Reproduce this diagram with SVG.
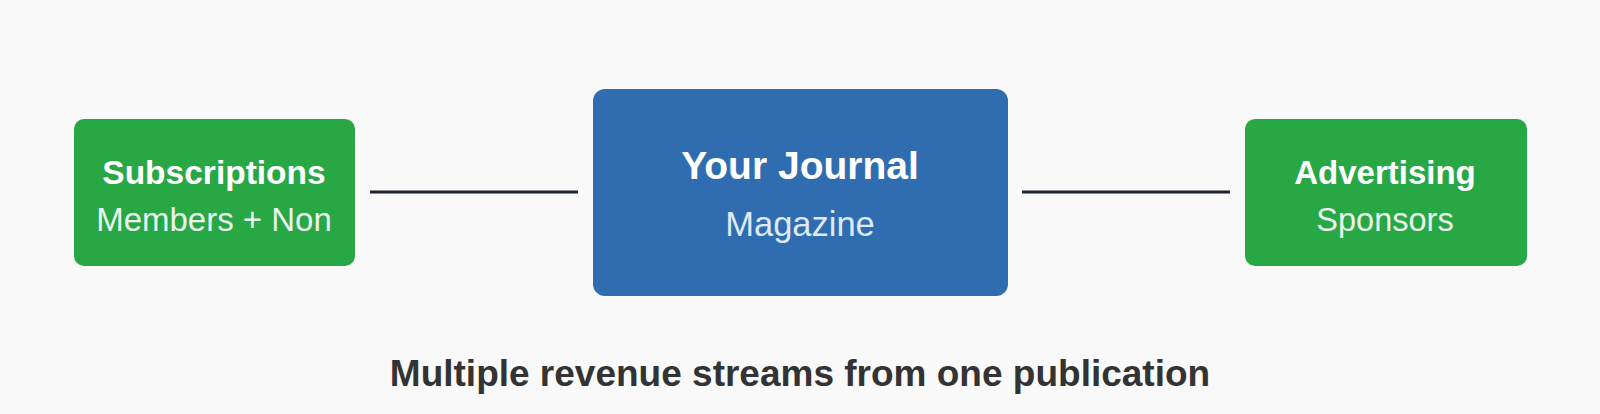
<svg xmlns="http://www.w3.org/2000/svg" width="1600" height="414" viewBox="0 0 1600 414">
<style>
.t{font-family:"Liberation Sans",Arial,sans-serif;text-anchor:middle}
.title{font-weight:bold;fill:#ffffff}
.sub{fill:#e8f5ec}
.subb{fill:#dfe9f5}
.green{fill:#28a745}
.blue{fill:#306db0}
.conn{stroke:#1c2333;stroke-width:3;fill:none}
</style>
<rect width="1600" height="414" fill="#f9f9f9"/>
<g id="connectors">
<line class="conn" x1="370" y1="192" x2="578" y2="192"/>
<line class="conn" x1="1022" y1="192" x2="1230" y2="192"/>
</g>
<g id="subscriptions">
<rect class="green" x="74" y="119" width="281" height="147" rx="10"/>
<text class="t title" x="214" y="184" font-size="33.5">Subscriptions</text>
<text class="t sub" x="214" y="231" font-size="33">Members + Non</text>
</g>
<g id="journal">
<rect class="blue" x="593" y="89" width="415" height="207" rx="12"/>
<text class="t title" x="800" y="179" font-size="39">Your Journal</text>
<text class="t subb" x="800" y="236" font-size="34.5">Magazine</text>
</g>
<g id="advertising">
<rect class="green" x="1245" y="119" width="282" height="147" rx="10"/>
<text class="t title" x="1385" y="184" font-size="33">Advertising</text>
<text class="t sub" x="1385" y="231" font-size="32.5">Sponsors</text>
</g>
<text class="t" x="800" y="386" font-size="37" font-weight="bold" fill="#333333">Multiple revenue streams from one publication</text>
</svg>
